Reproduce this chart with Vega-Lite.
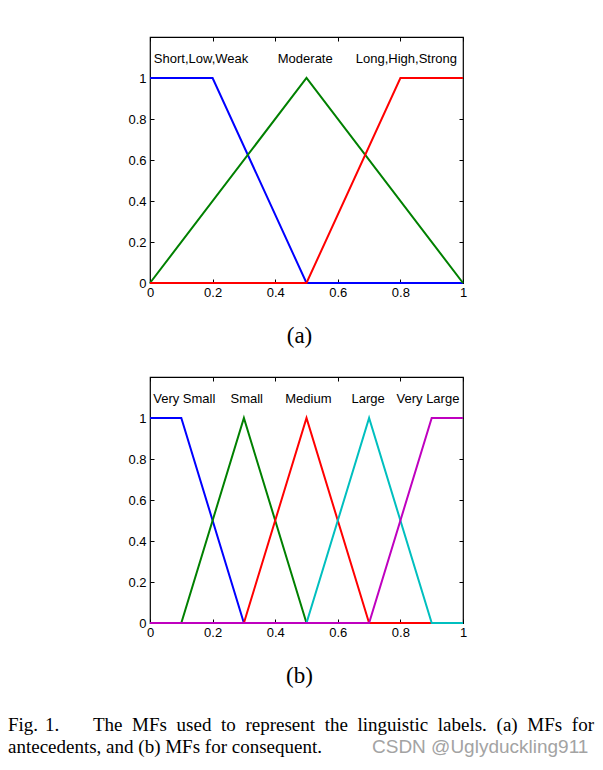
{
  "$schema": "https://vega.github.io/schema/vega-lite/v6.json",
  "padding": {"left": 8, "top": 35, "right": 0, "bottom": 0},
  "background": "white",
  "bounds": "flush",
  "center": true,
  "spacing": 94,
  "resolve": {"scale": {"color": "independent"}},
  "config": {
    "view": {"stroke": "black", "strokeWidth": 1.2},
    "axis": {
      "domain": false,
      "grid": false,
      "tickColor": "black",
      "tickSize": -4,
      "tickWidth": 1,
      "labelColor": "black",
      "labelFont": "Liberation Sans",
      "labelFontSize": 13,
      "labelPadding": 8,
      "labelOverlap": false,
      "labelFlush": false,
      "title": null
    },
    "title": {"font": "Liberation Serif", "fontSize": 23, "fontWeight": "normal", "color": "black"}
  },
  "vconcat": [
    {
      "width": 313,
      "height": 246,
      "title": {"text": "(a)", "orient": "bottom", "offset": 26, "dx": -7},
      "layer": [
        {
          "data": {"values": [
            {"mf": "Short,Low,Weak", "x": 0, "y": 1},
            {"mf": "Short,Low,Weak", "x": 0.2, "y": 1},
            {"mf": "Short,Low,Weak", "x": 0.5, "y": 0},
            {"mf": "Short,Low,Weak", "x": 1, "y": 0},
            {"mf": "Moderate", "x": 0, "y": 0},
            {"mf": "Moderate", "x": 0.5, "y": 1},
            {"mf": "Moderate", "x": 1, "y": 0},
            {"mf": "Long,High,Strong", "x": 0, "y": 0},
            {"mf": "Long,High,Strong", "x": 0.5, "y": 0},
            {"mf": "Long,High,Strong", "x": 0.8, "y": 1},
            {"mf": "Long,High,Strong", "x": 1, "y": 1}
          ]},
          "mark": {"type": "line", "strokeWidth": 2},
          "encoding": {
            "x": {"field": "x", "type": "quantitative", "scale": {"domain": [0, 1]},
                  "axis": {"values": [0, 0.2, 0.4, 0.6, 0.8, 1], "format": "~g", "labelPadding": 7}},
            "y": {"field": "y", "type": "quantitative", "scale": {"domain": [0, 1.2]},
                  "axis": {"values": [0, 0.2, 0.4, 0.6, 0.8, 1], "format": "~g"}},
            "color": {"field": "mf", "type": "nominal",
                      "scale": {"domain": ["Short,Low,Weak", "Moderate", "Long,High,Strong"], "range": ["#0000ff", "#008000", "#ff0000"]},
                      "legend": null}
          }
        },
        {
          "data": {"values": [
            {"label": "Short,Low,Weak", "x": 0.163, "y": 1.092},
            {"label": "Moderate", "x": 0.496, "y": 1.092},
            {"label": "Long,High,Strong", "x": 0.819, "y": 1.092}
          ]},
          "mark": {"type": "text", "font": "Liberation Sans", "fontSize": 13, "baseline": "middle", "align": "center", "color": "black"},
          "encoding": {
            "x": {"field": "x", "type": "quantitative", "scale": {"domain": [0, 1]},
                  "axis": {"orient": "top", "labels": false, "values": [0, 0.2, 0.4, 0.6, 0.8, 1]}},
            "y": {"field": "y", "type": "quantitative", "scale": {"domain": [0, 1.2]},
                  "axis": {"orient": "right", "labels": false, "values": [0, 0.2, 0.4, 0.6, 0.8, 1]}},
            "text": {"field": "label"}
          }
        }
      ],
      "resolve": {"axis": {"x": "independent", "y": "independent"}}
    },
    {
      "width": 313,
      "height": 246,
      "title": {"text": "(b)", "orient": "bottom", "offset": 26, "dx": -7},
      "layer": [
        {
          "data": {"values": [
            {"mf": "Very Small", "x": 0, "y": 1},
            {"mf": "Very Small", "x": 0.1, "y": 1},
            {"mf": "Very Small", "x": 0.3, "y": 0},
            {"mf": "Very Small", "x": 1, "y": 0},
            {"mf": "Small", "x": 0, "y": 0},
            {"mf": "Small", "x": 0.1, "y": 0},
            {"mf": "Small", "x": 0.3, "y": 1},
            {"mf": "Small", "x": 0.5, "y": 0},
            {"mf": "Small", "x": 1, "y": 0},
            {"mf": "Medium", "x": 0, "y": 0},
            {"mf": "Medium", "x": 0.3, "y": 0},
            {"mf": "Medium", "x": 0.5, "y": 1},
            {"mf": "Medium", "x": 0.7, "y": 0},
            {"mf": "Medium", "x": 1, "y": 0},
            {"mf": "Large", "x": 0, "y": 0},
            {"mf": "Large", "x": 0.5, "y": 0},
            {"mf": "Large", "x": 0.7, "y": 1},
            {"mf": "Large", "x": 0.9, "y": 0},
            {"mf": "Large", "x": 1, "y": 0},
            {"mf": "Very Large", "x": 0, "y": 0},
            {"mf": "Very Large", "x": 0.7, "y": 0},
            {"mf": "Very Large", "x": 0.9, "y": 1},
            {"mf": "Very Large", "x": 1, "y": 1}
          ]},
          "mark": {"type": "line", "strokeWidth": 2},
          "encoding": {
            "x": {"field": "x", "type": "quantitative", "scale": {"domain": [0, 1]},
                  "axis": {"values": [0, 0.2, 0.4, 0.6, 0.8, 1], "format": "~g", "labelPadding": 7}},
            "y": {"field": "y", "type": "quantitative", "scale": {"domain": [0, 1.2]},
                  "axis": {"values": [0, 0.2, 0.4, 0.6, 0.8, 1], "format": "~g"}},
            "color": {"field": "mf", "type": "nominal",
                      "scale": {"domain": ["Very Small", "Small", "Medium", "Large", "Very Large"], "range": ["#0000ff", "#008000", "#ff0000", "#00bfbf", "#bf00bf"]},
                      "legend": null}
          }
        },
        {
          "data": {"values": [
            {"label": "Very Small", "x": 0.1096, "y": 1.092},
            {"label": "Small", "x": 0.309, "y": 1.092},
            {"label": "Medium", "x": 0.506, "y": 1.092},
            {"label": "Large", "x": 0.697, "y": 1.092},
            {"label": "Very Large", "x": 0.888, "y": 1.092}
          ]},
          "mark": {"type": "text", "font": "Liberation Sans", "fontSize": 13, "baseline": "middle", "align": "center", "color": "black"},
          "encoding": {
            "x": {"field": "x", "type": "quantitative", "scale": {"domain": [0, 1]},
                  "axis": {"orient": "top", "labels": false, "values": [0, 0.2, 0.4, 0.6, 0.8, 1]}},
            "y": {"field": "y", "type": "quantitative", "scale": {"domain": [0, 1.2]},
                  "axis": {"orient": "right", "labels": false, "values": [0, 0.2, 0.4, 0.6, 0.8, 1]}},
            "text": {"field": "label"}
          }
        }
      ],
      "resolve": {"axis": {"x": "independent", "y": "independent"}}
    },
    {
      "width": 597,
      "height": 44,
      "view": {"stroke": null},
      "layer": [
        {
          "data": {"values": [
            {"word": "Fig.", "pos": 0, "row": 1},
            {"word": "1.", "pos": 0.062, "row": 1},
            {"word": "The", "pos": 0.1424, "row": 1},
            {"word": "MFs", "pos": 0.2079, "row": 1},
            {"word": "used", "pos": 0.2824, "row": 1},
            {"word": "to", "pos": 0.3568, "row": 1},
            {"word": "represent", "pos": 0.3977, "row": 1},
            {"word": "the", "pos": 0.5305, "row": 1},
            {"word": "linguistic", "pos": 0.5854, "row": 1},
            {"word": "labels.", "pos": 0.7199, "row": 1},
            {"word": "(a)", "pos": 0.8184, "row": 1},
            {"word": "MFs", "pos": 0.8698, "row": 1},
            {"word": "for", "pos": 0.9444, "row": 1},
            {"word": "antecedents, and (b) MFs for consequent.", "pos": 0, "row": 2}
          ]},
          "mark": {"type": "text", "font": "Liberation Serif", "fontSize": 19, "align": "left", "baseline": "middle", "color": "black"},
          "encoding": {
            "x": {"field": "pos", "type": "quantitative", "scale": {"domain": [0, 1]}, "axis": null},
            "y": {"field": "row", "type": "quantitative", "scale": {"domain": [2.64, 0.64]}, "axis": null},
            "text": {"field": "word"}
          }
        },
        {
          "data": {"values": [
            {"word": "CSDN @Uglyduckling911", "pos": 0.6097, "row": 2}
          ]},
          "mark": {"type": "text", "font": "Liberation Sans", "fontSize": 19, "align": "left", "baseline": "middle", "color": "#a3a3a3"},
          "encoding": {
            "x": {"field": "pos", "type": "quantitative", "scale": {"domain": [0, 1]}, "axis": null},
            "y": {"field": "row", "type": "quantitative", "scale": {"domain": [2.64, 0.64]}, "axis": null},
            "text": {"field": "word"}
          }
        }
      ]
    }
  ]
}
